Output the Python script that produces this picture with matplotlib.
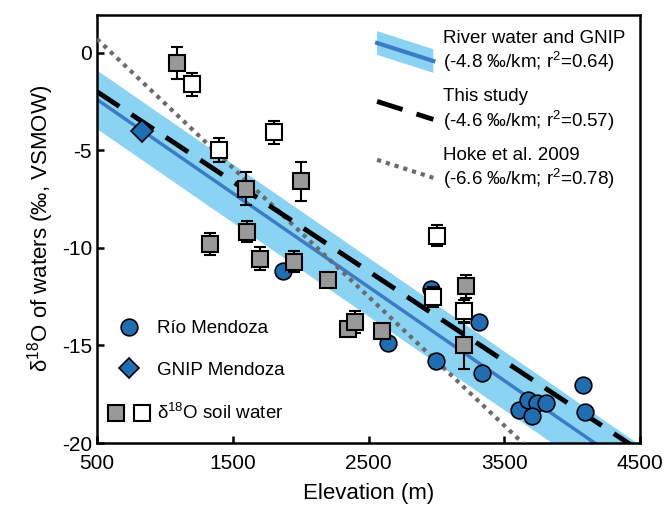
import matplotlib
matplotlib.use('Agg')
import matplotlib.pyplot as plt
from matplotlib.lines import Line2D
from matplotlib.patches import Polygon
from matplotlib.legend_handler import HandlerBase, HandlerTuple

plt.rcParams['font.family'] = ['Liberation Sans', 'DejaVu Sans']
plt.rcParams['mathtext.fontset'] = 'custom'
plt.rcParams['mathtext.rm'] = 'Liberation Sans'
plt.rcParams['mathtext.it'] = 'Liberation Sans:italic'
plt.rcParams['axes.unicode_minus'] = False

# Rio Mendoza river water
rio_x = [1868, 2646, 2962, 2998, 3313, 3337, 3609, 3678, 3740, 3809, 3707, 4078, 4095]
rio_y = [-11.2, -14.87, -12.1, -15.8, -13.8, -16.4, -18.28, -17.77, -17.97, -17.97, -18.62, -17.0, -18.41]

# GNIP Mendoza
gnip_x = [831]
gnip_y = [-4.03]

# soil water, grey squares
soil_g_x = [1093, 1596, 2004, 1604, 1331, 1702, 1954, 2201, 2349, 2404, 2601, 3221, 3204]
soil_g_y = [-0.53, -6.97, -6.6, -9.17, -9.8, -10.55, -10.7, -11.65, -14.15, -13.8, -14.27, -11.97, -15.0]
soil_g_err = [0.8, 0.85, 1.0, 0.55, 0.55, 0.57, 0.55, 0.0, 0.0, 0.55, 0.0, 0.6, 1.2]

# soil water, open squares
soil_w_x = [1201, 1401, 1801, 3004, 2974, 3204]
soil_w_y = [-1.62, -4.98, -4.09, -9.37, -12.53, -13.25]
soil_w_err = [0.6, 0.6, 0.6, 0.56, 0.5, 0.6]

# regression lines (end points)
line_x = [500, 4500]
river_y = [-2.4, -21.6]
river_hi = [-0.9, -20.1]
river_lo = [-3.9, -23.1]
study_y = [-2.0, -20.4]
hoke_y = [0.7, -25.7]

band_col = '#8ad3f2'
line_col = '#3c7cc6'
blue = '#1f6db3'
grey = '#999999'
dot_col = '#6b6b6b'


class SlantHandler(HandlerBase):
    def create_artists(self, legend, orig_handle, xd, yd, w, h, fontsize, trans):
        x0, x1 = -xd, -xd + w
        ym = -yd + h / 2
        dy = 0.16 * w
        if isinstance(orig_handle, tuple):
            t = 0.9 * h
            poly = Polygon([[x0, ym + dy + t], [x1, ym - dy + t], [x1, ym - dy - t], [x0, ym + dy - t]],
                           closed=True, facecolor=band_col, edgecolor='none', transform=trans)
            ln = Line2D([x0, x1], [ym + dy, ym - dy], color=line_col, lw=3, transform=trans)
            return [poly, ln]
        ln = Line2D([x0, x1], [ym + dy, ym - dy])
        ln.update_from(orig_handle)
        ln.set_transform(trans)
        return [ln]


fig = plt.figure(figsize=(6.64, 5.07), dpi=100)
ax = fig.add_axes([0.146, 0.126, 0.818, 0.845])

ax.fill_between(line_x, river_lo, river_hi, color=band_col, lw=0, zorder=1)
ax.plot(line_x, river_y, color=line_col, lw=2.5, zorder=2)
ax.plot(line_x, hoke_y, color=dot_col, lw=3, ls=(0, (1, 1.2)), zorder=3)
ax.plot(line_x, study_y, color='black', lw=3.5, ls=(0, (5.5, 3)), zorder=3)

ax.plot(rio_x, rio_y, 'o', ms=12, mfc=blue, mec='black', mew=1.2, zorder=4)
ax.plot(gnip_x, gnip_y, 'D', ms=11, mfc=blue, mec='black', mew=1.2, zorder=5)
ax.errorbar(soil_g_x, soil_g_y, yerr=soil_g_err, fmt='s', ms=11, mfc=grey, mec='black', mew=1.5,
            ecolor='black', elinewidth=1.5, capsize=4, capthick=1.5, zorder=6)
ax.errorbar(soil_w_x, soil_w_y, yerr=soil_w_err, fmt='s', ms=11, mfc='white', mec='black', mew=1.5,
            ecolor='black', elinewidth=1.5, capsize=4, capthick=1.5, zorder=6)

ax.set_xlim(500, 4500)
ax.set_ylim(-20, 1.94)
ax.set_xticks([500, 1500, 2500, 3500, 4500])
ax.set_yticks([0, -5, -10, -15, -20])
ax.tick_params(direction='in', length=5, width=1.8, labelsize=15, top=False, right=False)
ax.tick_params(axis='x', pad=8)
for s in ax.spines.values():
    s.set_linewidth(1.8)
ax.set_xlabel('Elevation (m)', fontsize=16, labelpad=7)
ax.set_ylabel('\u03b4$^{18}$O of waters (\u2030, VSMOW)', fontsize=16)

# upper legend: regression lines
band_h = (Polygon([[0, 0]], facecolor=band_col), Line2D([], [], color=line_col))
study_h = Line2D([], [], color='black', lw=3.5, ls=(0, (5.5, 3)))
hoke_h = Line2D([], [], color=dot_col, lw=3, ls=(0, (1, 1.2)))
leg1 = ax.legend([band_h, study_h, hoke_h],
                 ['River water and GNIP\n(-4.8 \u2030/km; r$^2$=0.64)',
                  'This study\n(-4.6 \u2030/km; r$^2$=0.57)',
                  'Hoke et al. 2009\n(-6.6 \u2030/km; r$^2$=0.78)'],
                 handler_map={tuple: SlantHandler(), Line2D: SlantHandler()},
                 loc='upper right', frameon=False, fontsize=13.5, handlelength=3.0,
                 labelspacing=0.73, handletextpad=0.5, borderaxespad=0.4)
ax.add_artist(leg1)

# lower legend: symbols
rio_h = Line2D([], [], ls='none', marker='o', ms=12, mfc=blue, mec='black', mew=1.2)
gnip_h = Line2D([], [], ls='none', marker='D', ms=10, mfc=blue, mec='black', mew=1.2)
sg_h = Line2D([], [], ls='none', marker='s', ms=11, mfc=grey, mec='black', mew=1.5)
sw_h = Line2D([], [], ls='none', marker='s', ms=11, mfc='white', mec='black', mew=1.5)
ax.legend([rio_h, gnip_h, (sg_h, sw_h)],
          ['R\u00edo Mendoza', 'GNIP Mendoza', '\u03b4$^{18}$O soil water'],
          handler_map={tuple: HandlerTuple(ndivide=None, pad=0.5)},
          loc='lower left', bbox_to_anchor=(-0.0166, 0), frameon=False, fontsize=13.5,
          handlelength=2.25, labelspacing=1.3, handletextpad=0.4, borderaxespad=0.65)

fig.savefig('out.png', dpi=100)
